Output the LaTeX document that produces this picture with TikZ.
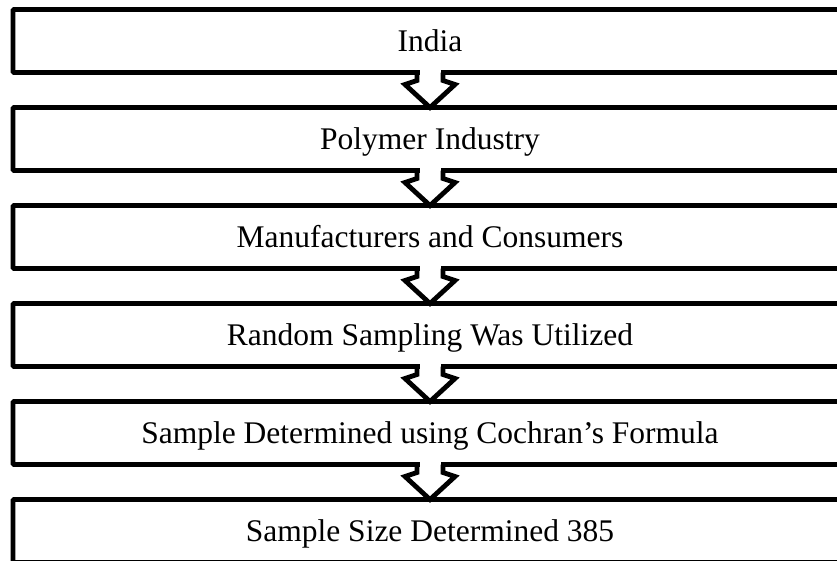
\documentclass[tikz,border=0pt]{standalone}
\usepackage{fontspec}
\setmainfont{Liberation Serif}
\usetikzlibrary{positioning}

\tikzset{
  stage/.style={draw, line width=4.8pt, rounded corners=1pt, minimum width=834pt,
    minimum height=63pt, inner sep=0pt, outer sep=0pt,
    font=\fontsize{31.5}{31.5}\selectfont, text height=20.6pt, text depth=0pt},
  flow/.style={draw, line width=4.8pt}
}

\begin{document}
\begin{tikzpicture}[x=1pt, y=-1pt, node distance=35pt]
\useasboundingbox (0,0) rectangle (837,560);

\node[stage] (india) at (430,41) {India};
\node[stage, below=of india] (poly) {Polymer Industry};
\node[stage, below=of poly] (makers) {Manufacturers and Consumers};
\node[stage, below=of makers] (random) {Random Sampling Was Utilized};
\node[stage, below=of random] (cochran) {Sample Determined using Cochran’s Formula};
\node[stage, below=of cochran] (size) {Sample Size Determined 385};

% block arrows between the stages
\foreach \a/\b in {india/poly, poly/makers, makers/random, random/cochran, cochran/size}{
  \fill[white] ([xshift=-10.5pt,yshift=3pt]\a.south) rectangle ([xshift=10.5pt,yshift=-8pt]\a.south);
  \path[flow] ([xshift=-13pt]\a.south) -- ([xshift=-13pt,yshift=-8pt]\a.south)
    -- ([xshift=-25pt,yshift=-12pt]\a.south) -- (\b.north)
    -- ([xshift=25pt,yshift=-12pt]\a.south) -- ([xshift=13pt,yshift=-8pt]\a.south)
    -- ([xshift=13pt]\a.south);
}

\end{tikzpicture}
\end{document}
